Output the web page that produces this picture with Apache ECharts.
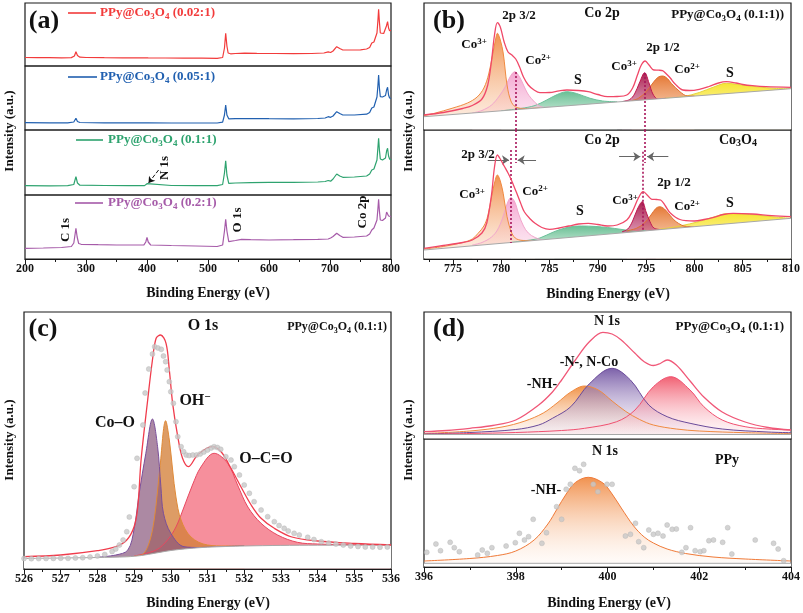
<!DOCTYPE html>
<html><head><meta charset="utf-8">
<script src="https://cdn.jsdelivr.net/npm/echarts@6/dist/echarts.min.js"></script>
<style>html,body{margin:0;padding:0;background:#fff}#c{width:803px;height:613px}</style>
</head><body><div id="c"></div>
<script>
// ---------------- DATA ----------------
// (a) survey spectra [binding energy, intensity]
const surveyRed = [[200,8.5],[220,8.4],[240,8.3],[260,8.2],[276,8.4],[281,10],[283.5,14.3],[286,10.5],[290,8.8],[300,8.5],[330,8.3],[360,8.2],[390,8.1],[398,8.2],[400,9],[402,8.1],[430,8],[460,7.9],[490,7.8],[515,7.7],[524,8.5],[527,18],[529,32.7],[531,20],[533,13],[537,12.2],[545,12.5],[560,12.8],[580,12.6],[610,12.5],[640,12.4],[670,12.5],[690,13],[697,14.2],[701,13.5],[705,15],[711,19.3],[716,17.5],[721,16],[735,16],[750,16.2],[760,17],[765,18.5],[768.5,23],[772,24],[775,26],[777,33],[778.5,45],[779.7,56.7],[781,44],[782.5,33],[785,32.5],[788,32.5],[790.5,33.5],[792.5,40],[794.4,44.3],[796,38],[797.7,35.3],[800,35.5]];
const surveyBlue = [[200,7.3],[240,7.2],[270,7.2],[280,8],[283.5,11.7],[286,8.5],[290,7.5],[330,7.2],[370,7.1],[398,7.2],[400,8],[402,7.2],[440,7],[480,7],[515,7],[524,7.8],[527,15],[529,25],[531,15],[534,11.2],[545,11.3],[570,11.5],[600,11.3],[640,11.2],[680,11.5],[692,12],[697,13.3],[701,12.7],[705,14],[711,18.3],[716,16.5],[721,15],[740,15],[760,15.8],[765,17.5],[768.5,22],[772,23],[775,24.5],[777,33],[778.5,44],[779.7,55],[781,42],[782.5,33.3],[786,33],[789,33],[791,34.5],[792.8,40],[794.4,42.7],[796,35],[797.7,32],[800,31.7]];
const surveyGreen = [[200,9.3],[240,9.2],[270,9.3],[280,10.5],[283.5,18.3],[286,12],[290,9.8],[330,9.5],[370,9.3],[396,9.4],[400,11.3],[403,9.6],[440,9.5],[480,9.4],[515,9.4],[524,10.5],[527,22],[529,34.3],[531,20],[534,11.7],[545,12],[570,12.3],[600,12.6],[640,12.6],[680,13],[692,13.5],[697,14.5],[701,13.8],[705,16],[711,21],[716,19],[721,17.7],[740,18],[760,19],[765,21],[768.5,25],[772,26],[775,27.5],[777,35],[778.5,47],[779.7,56.7],[781,45],[782.5,36],[786,35],[789,35.5],[791,37],[792.8,44],[794.4,46.7],[796,39],[797.7,36],[800,35]];
const surveyPurple = [[200,10.7],[230,11],[260,11.5],[276,12.5],[280,16],[283.5,30.7],[285.5,22],[288,15.5],[292,14.7],[320,14.3],[350,14],[380,14],[395,14.2],[398,17],[400,21.7],[402,17],[406,14],[440,13.5],[480,13],[515,12.5],[524,14],[527,28],[529,39.7],[531,28],[534,17.3],[545,18.5],[555,19.7],[570,19.3],[600,19],[640,19.3],[680,19.7],[697,20],[701,21],[705,22.5],[711,25.7],[716,23.5],[721,21.7],[740,22],[760,23],[765,25],[768.5,29],[772,31],[775,33],[777,39],[778.5,50],[779.7,59.7],[781,48],[782.5,39],[786,38.5],[789,39],[791,41],[792.8,47],[794.4,49],[796,43],[797.7,41],[800,42.3]];

// (b) Co 2p, PPy@Co3O4 (0.1:1)
const b1Background = [[772,13.3],[810,41.3]];
const b1Envelope = [[772,15],[774,17.5],[776,21.5],[777,24.5],[778,31],[778.6,45],[779,70],[779.3,95],[779.6,107.3],[779.9,103],[780.3,88],[780.7,78],[781.1,75],[781.5,71],[781.9,63],[782.3,53],[782.8,45],[783.4,40],[784,37.3],[785,37.5],[786,39.2],[786.8,40],[788,39.5],[789,38.3],[790,35.5],[791,33.3],[792,33.5],[793,35],[793.6,42],[794.1,55],[794.5,65],[794.9,69],[795.3,65],[795.8,60],[796.3,59.8],[796.7,59.3],[797.1,56],[797.5,52],[798,46],[798.8,40],[799.5,39.5],[800.5,40.7],[801.5,43.5],[802.5,47],[803.3,48.3],[804.3,47],[805,45.5],[806,44.3],[807.4,43.3],[810,42.7]];
const b1Co3a = [[772,14.5],[773,16.5],[775,22],[776.5,27],[777.5,33],[778.2,42],[778.7,56],[779.1,75],[779.4,90],[779.6,96.7],[779.9,90],[780.2,77],[780.6,45],[781,29],[781.5,23],[782.5,21.5],[784,22.1]];
const b1Co2a = [[777,17],[778,19.5],[779,25],[779.8,34],[780.4,43],[780.9,53],[781.4,58.3],[781.9,53],[782.3,45],[782.7,37],[783.1,31.7],[783.8,25],[784.5,22.6],[785,23]];
const b1Sat1 = [[780,19.2],[782,21.5],[783.5,24.5],[784.7,30],[785.8,35.5],[786.8,38.3],[787.8,36.5],[789.2,31.7],[790.5,29],[792,28.2]];
const b1Co3b = [[792.5,28.4],[793.3,30.5],[793.8,36],[794.3,47],[794.85,57.3],[795.3,47],[795.7,36],[796.2,31],[797,31.6]];
const b1Co2b = [[793.5,29.3],[794.2,31.7],[795,38.3],[795.7,47],[796.2,52.5],[796.7,54],[797.2,51.5],[797.6,46.7],[798.5,38.3],[799.3,34],[800,34]];
const b1Sat2 = [[797,31.8],[798.8,33.3],[800.5,37.5],[802,43],[803.3,46.7],[804.5,45.5],[806.4,43.3],[808.5,41.5],[810,41.3]];

// (b) Co 2p, Co3O4
const b2Background = [[772,9],[810,40.7]];
const b2Envelope = [[772,10.7],[774,13.5],[776,16.5],[777,19],[778,26],[778.5,36],[779,65],[779.3,92],[779.6,104],[779.9,100],[780.3,93],[780.7,86],[781,80],[781.3,73],[781.6,66],[782,56],[782.4,47],[783,40],[783.5,35.7],[784.2,31.5],[785,29.7],[786,31],[787,33],[788,35],[789,35.7],[790,34.5],[791,33],[792,34],[793,39],[793.6,48],[794.2,61],[794.7,67.3],[795.2,63],[795.6,59.7],[796.1,59.5],[796.5,59],[797,53],[797.5,46],[798.5,39.5],[800,38],[801,39.5],[802,41.7],[803,44.5],[804,45.7],[806,45],[808,43.3],[810,42.3]];
const b2Co3a = [[772,10],[774,12.5],[776,16.5],[777,20],[777.6,25.7],[778.2,33],[778.6,43],[779,62.3],[779.3,76],[779.6,84],[779.9,78],[780.2,65.7],[780.6,42.3],[781.1,25.7],[781.6,20],[782.5,18.5],[783.5,18.6]];
const b2Co2a = [[777,14],[778,16.5],[779,22],[779.6,29],[780.1,40],[780.6,55],[781,61.5],[781.4,57],[781.8,45],[782.3,33],[782.8,26],[783.5,21.5],[784.5,19],[785.5,20]];
const b2Sat1 = [[781,16.5],[783,19],[784,21],[785.4,27],[786.8,31.5],[788.3,33],[789.8,32.5],[791,31.5],[792.5,29.5],[794,27.5],[795,28.7]];
const b2Co3b = [[792.5,27.3],[793.1,30],[793.6,38],[794.1,50],[794.6,57.3],[795,47],[795.4,37.3],[795.8,31],[796.5,29.4]];
const b2Co2b = [[793,28.2],[794,30.7],[794.8,35.7],[795.5,44],[796,50.5],[796.4,52.3],[796.9,50],[797.3,45.7],[798.1,37.3],[799.2,32.5],[800,32.4]];
const b2Sat2 = [[796,29.2],[798.5,33],[800.5,37.5],[802,42],[803.5,45.5],[805,45],[806.4,44],[808.5,41.8],[810,40.7]];

// (c) O 1s
const cBackground = [[526,10.5],[527,11],[528,11.5],[528.8,12.2],[529.2,13.5],[529.6,16],[530,18.5],[530.5,20.5],[531,21.8],[532,23],[533,23.6],[534,23.8],[536,23.8]];
const cEnvelope = [[526,12.3],[527,14],[528,18.3],[528.5,22.3],[528.8,29],[529,42.3],[529.1,62],[529.19,109],[529.37,169],[529.5,209],[529.6,230.7],[529.72,234],[529.87,225.7],[529.96,199],[530.05,165.7],[530.19,132.3],[530.32,110.7],[530.48,102.3],[530.73,114],[531.12,122.3],[531.37,117.3],[531.64,100.7],[531.91,82.3],[532.19,64],[532.46,50.7],[532.82,40.7],[533.3,32],[534,28],[535,25.5],[536,24]];
const cCoO = [[528,11.8],[528.5,14],[528.83,19],[529.0,40],[529.14,76],[529.32,115.7],[529.5,150],[529.64,122.3],[529.73,82.3],[529.8,55.7],[530.0,35.7],[530.36,22.3],[530.8,21.5],[531.5,22.5],[532,23]];
const cOH = [[528.8,12.2],[529.2,14],[529.4,25],[529.55,50],[529.7,100],[529.86,148.3],[529.96,129],[530.05,99],[530.14,72],[530.28,49],[530.55,32],[531.0,24],[531.5,23],[532,23.2]];
const cOCO = [[529.0,13],[529.6,19],[529.91,29],[530.14,42],[530.36,62],[530.59,84],[530.82,102],[531.18,115.7],[531.55,105.7],[531.82,84],[532.1,62],[532.46,45.7],[532.91,34],[533.45,26.7],[534,25],[535,24.3],[536,24]];
const cRaw = [[526.0,10.5],[526.2,10.3],[526.4,10.4],[526.6,10.5],[526.8,10.6],[527.0,10.8],[527.2,10.7],[527.4,11],[527.6,11.3],[527.8,12],[528.0,13],[528.2,14.5],[528.4,17.5],[528.5,20],[528.6,24],[528.7,29],[528.8,37.3],[528.87,52],[529.0,82.3],[529.08,110.7],[529.24,144],[529.3,176],[529.4,200],[529.5,215],[529.56,222.3],[529.65,221],[529.74,219.7],[529.8,213],[529.86,207.3],[529.9,199],[529.96,187.3],[530.0,177.3],[530.07,165.7],[530.14,147.3],[530.19,132.3],[530.28,122.3],[530.35,117.3],[530.42,114],[530.5,113.5],[530.6,114],[530.7,114],[530.8,115],[530.9,117],[531.0,119],[531.1,121],[531.18,122.3],[531.27,121.5],[531.36,119.7],[531.5,112.3],[531.64,109],[531.73,102.3],[531.87,94],[532.0,84],[532.14,75.7],[532.27,67.3],[532.46,59],[532.64,52.3],[532.82,47.3],[532.95,43.5],[533.09,40.7],[533.2,38],[533.36,35.7],[533.5,34],[533.73,31.7],[533.9,29.5],[534.1,27.3],[534.3,26],[534.5,25],[534.7,24],[534.9,23],[535.1,22.5],[535.3,22],[535.5,22],[535.7,21.8],[535.9,22]];

// (d) N 1s, PPy@Co3O4 (0.1:1)
const d1Background = [[396,4.5],[404,4.5]];
const d1Envelope = [[396,7.3],[396.5,8.5],[397,10.7],[397.5,13.5],[398,19],[398.5,34],[398.8,47],[399,59],[399.3,79],[399.6,97],[399.9,106.7],[400.1,105],[400.3,99],[400.6,85.7],[400.8,77.3],[401.0,73.5],[401.15,75.5],[401.3,79],[401.5,74],[401.8,58],[402.1,42],[402.5,27],[403,17],[403.5,11.5],[404,9]];
const d1NH = [[396,5.5],[397,8],[397.7,12],[398.2,18],[398.6,26],[398.9,36],[399.2,47],[399.5,53],[399.8,49],[400.1,38],[400.4,27.5],[400.7,19.5],[401,14],[401.5,10],[402,8],[403,6.3],[404,5.5]];
const d1NCo = [[396,5],[397,6.5],[398,9.5],[398.5,14],[398.8,20.7],[399.2,32.3],[399.6,55],[400.1,70.7],[400.5,59],[400.9,34],[401.3,22.3],[401.8,15.7],[402.5,10],[403.5,7],[404,6.3]];
const d1Third = [[396,4.8],[397,5.5],[398,6.5],[399,8.5],[399.5,10.7],[400.2,17.3],[400.6,29],[401,52.3],[401.38,62.3],[401.8,49],[402.1,32.3],[402.5,19],[403,12.3],[403.5,10],[404,9]];

// (d) N 1s, PPy
const d2Background = [[396,3.7],[404,3.7]];
const d2NH = [[396,6],[397,8.5],[397.6,11.5],[398,16],[398.4,27],[398.7,43],[398.9,58],[399.1,73],[399.3,84.5],[399.58,89.7],[399.9,84],[400.1,73],[400.3,59],[400.57,41],[400.8,30],[401.0,24],[401.3,18],[401.7,13.5],[402.3,10],[403,8],[404,6]];
const d2Raw = [[396.06,14.7],[396.26,23],[396.36,16.3],[396.57,24.7],[396.66,19.3],[396.77,15.3],[397.17,12],[397.27,17],[397.38,13.7],[397.48,19.3],[397.79,21],[397.99,24.3],[398.08,33.7],[398.19,27],[398.28,30.3],[398.38,47.7],[398.57,23.7],[398.67,34.3],[398.89,60.3],[399.0,47.7],[399.1,77.7],[399.19,82.7],[399.29,98.7],[399.39,96.3],[399.48,102.7],[399.69,82.7],[399.79,75.3],[399.99,82.7],[400.1,82.7],[400.39,31],[400.5,32.7],[400.61,43.7],[400.68,25.3],[400.79,19.3],[400.9,37],[401.0,32.7],[401.1,33.7],[401.21,31],[401.3,42],[401.41,37.7],[401.5,38],[401.62,14.7],[401.71,19.3],[401.81,39.3],[401.91,16.3],[402.02,15.3],[402.1,16.3],[402.21,26.3],[402.31,27],[402.51,24.7],[402.62,39.3],[402.71,13],[403.22,27],[403.62,23.7],[403.72,18],[403.84,6.3],[404.02,8.7]];

// tick labels / ranges
const aTicks = {min:200, max:800, interval:100};
const bTickLabels = [775,780,785,790,795,800,805,810];
const bMinorTicks = [772.5,777.5,782.5,787.5,792.5,797.5,802.5,807.5];
const bRange = {min:772, max:810};
const cTicks = {min:526, max:536, interval:1};
const dTicks = {min:396, max:404, interval:2};

// ---------------- LAYOUT ----------------
const FF = '"Liberation Serif","Times New Roman",serif';
const GRIDS = [
  [25,3,366,63],[25,66,366,64],[25,130,366,65],[25,195,366,64],
  [424,3,367,127],[424,130,367,129],
  [24,312,367,257],
  [424,312,367,127],[424,439,367,128]
];
const grid = GRIDS.map(g => ({left:g[0], top:g[1], width:g[2], height:g[3], show:true,
  borderColor:'#1a1a1a', borderWidth:1.2, backgroundColor:'rgba(0,0,0,0)'}));

const labelStyle = {color:'#111', fontFamily:FF, fontWeight:'bold', fontSize:12, margin:4};
function bottomAxis(gi, ext){
  return Object.assign({gridIndex:gi, type:'value', position:'bottom',
    axisLine:{show:true, onZero:false, lineStyle:{color:'#1a1a1a', width:1.2}},
    axisTick:{show:true, inside:false, length:5, lineStyle:{color:'#1a1a1a', width:1}},
    minorTick:{show:true, splitNumber:2, length:3, lineStyle:{color:'#1a1a1a', width:1}},
    axisLabel:Object.assign({}, labelStyle),
    splitLine:{show:false}, minorSplitLine:{show:false}}, ext);
}
const xAxis = [
  {gridIndex:0, type:'value', min:aTicks.min, max:aTicks.max, show:false},
  {gridIndex:1, type:'value', min:aTicks.min, max:aTicks.max, show:false},
  {gridIndex:2, type:'value', min:aTicks.min, max:aTicks.max, show:false},
  bottomAxis(3, {min:aTicks.min, max:aTicks.max, interval:aTicks.interval}),
  {gridIndex:4, type:'value', min:bRange.min, max:bRange.max, show:false},
  bottomAxis(5, {min:bRange.min, max:bRange.max, minorTick:{show:false},
    axisTick:{show:true, inside:false, length:5, customValues:bTickLabels, lineStyle:{color:'#1a1a1a', width:1}},
    axisLabel:Object.assign({customValues:bTickLabels}, labelStyle)}),
  bottomAxis(6, {min:cTicks.min, max:cTicks.max, interval:cTicks.interval}),
  {gridIndex:7, type:'value', min:dTicks.min, max:dTicks.max, show:false},
  bottomAxis(8, {min:dTicks.min, max:dTicks.max, interval:dTicks.interval}),
  // minor ticks for (b)
  {gridIndex:5, type:'value', min:bRange.min, max:bRange.max, position:'bottom',
    axisLine:{show:false}, axisLabel:{show:false}, splitLine:{show:false},
    axisTick:{show:true, inside:false, length:3, customValues:bMinorTicks, lineStyle:{color:'#1a1a1a', width:1}}}
];
const yAxis = GRIDS.map((g,i) => ({gridIndex:i, type:'value', min:0, max:g[3], show:false}));

function grad(c1, c2){ return {type:'linear', x:0, y:0, x2:0, y2:1, colorStops:[{offset:0,color:c1},{offset:1,color:c2}]}; }
function spectrum(gi, data, color){
  return {type:'line', xAxisIndex:gi, yAxisIndex:gi, data, symbol:'none', smooth:false,
    lineStyle:{color, width:1.2}, z:5, silent:true};
}
function comp(gi, data, line, fill){
  return {type:'line', xAxisIndex:gi, yAxisIndex:gi, data, symbol:'none', smooth:0.35,
    lineStyle:{color:line, width:1}, areaStyle:{color:fill, opacity:1, origin:0.8}, z:2, silent:true};
}
function mask(gi, data, smooth){
  return {type:'line', xAxisIndex:gi, yAxisIndex:gi, data, symbol:'none', smooth:smooth||false,
    lineStyle:{color:'#a8a8a8', width:1}, areaStyle:{color:'#ffffff', opacity:1, origin:0.8}, z:3, silent:true};
}
function envelope(gi, data, color, width){
  return {type:'line', xAxisIndex:gi, yAxisIndex:gi, data, symbol:'none', smooth:0.35,
    lineStyle:{color, width:width||1.3}, z:5, silent:true};
}
function dots(gi, data){
  return {type:'scatter', xAxisIndex:gi, yAxisIndex:gi, data, symbolSize:5,
    itemStyle:{color:'#c8c8c8', borderColor:'#b5b5b5', borderWidth:0.5}, z:6, silent:true};
}
const dotted = {silent:true, symbol:['none','none'], label:{show:false},
  lineStyle:{color:'#a8145a', type:[2,2], width:1.6}};
const arrows = {silent:true, symbol:['none','arrow'], symbolSize:[7,7], label:{show:false},
  lineStyle:{color:'#666', type:'solid', width:1}};
function seg(x1,y1,x2,y2){ return [{coord:[x1,y1]},{coord:[x2,y2]}]; }

const COL = {red:'#f23b3b', blue:'#2160b0', green:'#2ea36f', purple:'#a65ba9'};

const series = [
  Object.assign(spectrum(0, surveyRed, COL.red)),
  spectrum(1, surveyBlue, COL.blue),
  Object.assign(spectrum(2, surveyGreen, COL.green), {markLine:Object.assign({}, arrows,
    {symbolSize:[6,6], lineStyle:{color:'#111', width:1}, data:[seg(419,25,402.5,12)]})}),
  spectrum(3, surveyPurple, COL.purple),

  // b1
  comp(4, b1Sat1, '#6cc09a', grad('rgba(80,180,130,0.85)','rgba(210,240,222,0.5)')),
  comp(4, b1Sat2, '#e6d43c', grad('rgba(246,228,40,0.95)','rgba(252,245,180,0.5)')),
  comp(4, b1Co2a, '#f2a6cc', grad('rgba(242,150,200,0.85)','rgba(252,228,240,0.5)')),
  comp(4, b1Co3a, '#f08a40', grad('rgba(240,140,70,0.95)','rgba(253,228,210,0.5)')),
  comp(4, b1Co2b, '#e07030', grad('rgba(228,115,45,0.95)','rgba(248,200,165,0.5)')),
  comp(4, b1Co3b, '#c01850', grad('rgba(165,20,70,0.95)','rgba(235,170,200,0.5)')),
  mask(4, b1Background),
  Object.assign(envelope(4, b1Envelope, '#f04868'), {markLine:Object.assign({}, dotted,
    {data:[seg(781.5,58,781.5,0), seg(794.9,57,794.9,0)]})}),

  // b2
  comp(5, b2Sat1, '#6cc09a', grad('rgba(80,180,130,0.85)','rgba(210,240,222,0.5)')),
  comp(5, b2Sat2, '#e6d43c', grad('rgba(246,228,40,0.95)','rgba(252,245,180,0.5)')),
  comp(5, b2Co2a, '#f2a6cc', grad('rgba(242,150,200,0.85)','rgba(252,228,240,0.5)')),
  comp(5, b2Co3a, '#f08a40', grad('rgba(240,140,70,0.95)','rgba(253,228,210,0.5)')),
  comp(5, b2Co2b, '#e07030', grad('rgba(228,115,45,0.95)','rgba(248,200,165,0.5)')),
  comp(5, b2Co3b, '#c01850', grad('rgba(165,20,70,0.95)','rgba(235,170,200,0.5)')),
  Object.assign(mask(5, b2Background), {markLine:Object.assign({}, arrows,
    {data:[seg(778.6,99,780.8,99), seg(783.6,99,781.7,99), seg(792.2,102.3,794.4,102.3), seg(797.3,102.3,795.1,102.3)]})}),
  Object.assign(envelope(5, b2Envelope, '#f04868'), {markLine:Object.assign({}, dotted,
    {data:[seg(781.5,129,781.5,96), seg(781.0,109,781.0,16), seg(794.9,129,794.9,96), seg(794.6,107.3,794.6,29)]})}),

  // c
  comp(6, cOCO, '#e84860', 'rgba(244,112,128,0.78)'),
  comp(6, cOH, '#e08a38', 'rgba(212,128,58,0.78)'),
  comp(6, cCoO, '#7a4f9a', 'rgba(140,92,128,0.72)'),
  mask(6, cBackground, 0.3),
  dots(6, cRaw),
  envelope(6, cEnvelope, '#f03c4c', 1.3),

  // d1
  comp(7, d1NH, '#f08a40', grad('rgba(240,140,60,0.95)','rgba(255,240,230,0.25)')),
  comp(7, d1NCo, '#6a4a9a', grad('rgba(110,80,160,0.9)','rgba(240,232,246,0.25)')),
  comp(7, d1Third, '#f05070', grad('rgba(240,80,100,0.9)','rgba(255,235,240,0.25)')),
  mask(7, d1Background),
  envelope(7, d1Envelope, '#f05878', 1.3),

  // d2
  comp(8, d2NH, '#f07a38', grad('rgba(240,140,70,0.95)','rgba(255,245,238,0.25)')),
  mask(8, d2Background),
  dots(8, d2Raw)
];

// ---------------- TEXT ----------------
function rich(size, color){
  const s = Math.round(size*0.68);
  return {
    n:{fontFamily:FF, fontWeight:'bold', fontSize:size, lineHeight:size+3, fill:color},
    b:{fontFamily:FF, fontWeight:'bold', fontSize:s, lineHeight:s, verticalAlign:'bottom', fill:color},
    t:{fontFamily:FF, fontWeight:'bold', fontSize:s, lineHeight:s, verticalAlign:'top', fill:color}
  };
}
function T(x, y, text, size, opt){
  opt = opt || {};
  const color = opt.color || '#111';
  return {type:'text', x, y, rotation:opt.rot||0, silent:true, z:100,
    style:{text, rich:rich(size, color), fill:color, font:'bold '+size+'px '+FF,
      align:opt.align||'center', textAlign:opt.align||'center', verticalAlign:'middle', textVerticalAlign:'middle'}};
}
function L(x1, y1, x2, y2, color){
  return {type:'line', silent:true, z:100, shape:{x1,y1,x2,y2}, style:{stroke:color, lineWidth:1.6}};
}
const R90 = Math.PI/2;
const graphic = [
  // panel letters
  T(44,21,'{n|(a)}',26), T(449,21,'{n|(b)}',26), T(43,329,'{n|(c)}',26), T(449,329,'{n|(d)}',26),
  // (a) legends
  L(68,13,96,13,COL.red), T(100,13,'{n|PPy@Co}{b|3}{n|O}{b|4}{n| (0.02:1)}',13,{align:'left',color:COL.red}),
  L(68,77,97,77,COL.blue), T(100,77,'{n|PPy@Co}{b|3}{n|O}{b|4}{n| (0.05:1)}',13,{align:'left',color:COL.blue}),
  L(76,140,103,140,COL.green), T(108,140,'{n|PPy@Co}{b|3}{n|O}{b|4}{n| (0.1:1)}',13,{align:'left',color:COL.green}),
  L(75,203,103,203,COL.purple), T(108,203,'{n|PPy@Co}{b|3}{n|O}{b|4}{n| (0.2:1)}',13,{align:'left',color:COL.purple}),
  T(165,168,'{n|N 1s}',13,{rot:R90}), T(66,230,'{n|C 1s}',13,{rot:R90}),
  T(238,220,'{n|O 1s}',13,{rot:R90}), T(363,212,'{n|Co 2p}',13,{rot:R90}),
  // (b)
  T(519,16,'{n|2p 3/2}',13), T(602,13,'{n|Co 2p}',14),
  T(784,15,'{n|PPy@Co}{b|3}{n|O}{b|4}{n| (0.1:1))}',13,{align:'right'}),
  T(474,45,'{n|Co}{t|3+}',13), T(538,61,'{n|Co}{t|2+}',13), T(578,80,'{n|S}',14),
  T(624,67,'{n|Co}{t|3+}',13), T(663,48,'{n|2p 1/2}',13), T(687,70,'{n|Co}{t|2+}',13), T(730,73,'{n|S}',14),
  T(478,155,'{n|2p 3/2}',13), T(602,140,'{n|Co 2p}',14), T(738,140,'{n|Co}{b|3}{n|O}{b|4}',14),
  T(472,195,'{n|Co}{t|3+}',13), T(535,192,'{n|Co}{t|2+}',13), T(580,211,'{n|S}',14),
  T(625,201,'{n|Co}{t|3+}',13), T(674,183,'{n|2p 1/2}',13), T(687,207,'{n|Co}{t|2+}',13), T(730,203,'{n|S}',14),
  // (c)
  T(203,326,'{n|O 1s}',16), T(387,327,'{n|PPy@Co}{b|3}{n|O}{b|4}{n| (0.1:1)}',12,{align:'right'}),
  T(115,423,'{n|Co–O}',16), T(195,401,'{n|OH}{t|−}',16), T(266,459,'{n|O–C=O}',16),
  // (d)
  T(607,321,'{n|N 1s}',14), T(784,327,'{n|PPy@Co}{b|3}{n|O}{b|4}{n| (0.1:1)}',13,{align:'right'}),
  T(589,362,'{n|-N-, N-Co}',14), T(542,384,'{n|-NH-}',14),
  T(605,451,'{n|N 1s}',14), T(727,460,'{n|PPy}',14), T(546,490,'{n|-NH-}',14),
  // axis titles
  T(208,293,'{n|Binding Energy (eV)}',14), T(608,294,'{n|Binding Energy (eV)}',14),
  T(208,603,'{n|Binding Energy (eV)}',14), T(609,603,'{n|Binding Energy (eV)}',14),
  T(10,131,'{n|Intensity (a.u.)}',13,{rot:R90}), T(409,131,'{n|Intensity (a.u.)}',13,{rot:R90}),
  T(10,440,'{n|Intensity (a.u.)}',13,{rot:R90}), T(409,440,'{n|Intensity (a.u.)}',13,{rot:R90})
];

const chart = echarts.init(document.getElementById('c'), null, {renderer:'canvas', width:803, height:613});
chart.setOption({animation:false, backgroundColor:'#fff', textStyle:{fontFamily:FF},
  grid, xAxis, yAxis, series, graphic});
</script></body></html>
